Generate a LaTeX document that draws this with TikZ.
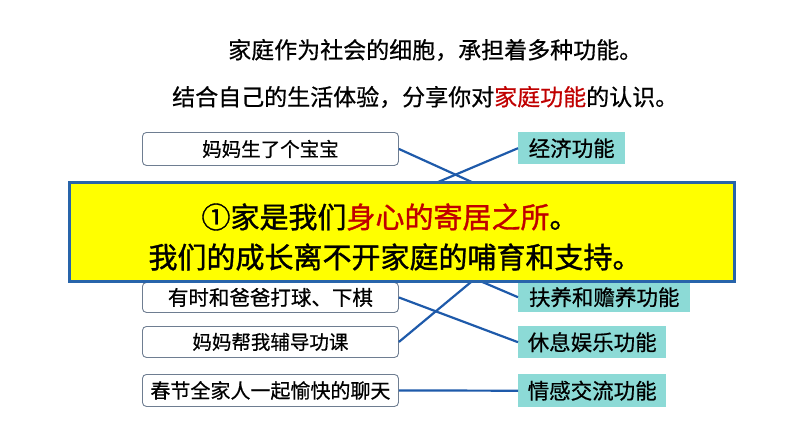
\documentclass[tikz,border=0pt]{standalone}
\usepackage{fontspec}
\setmainfont{Noto Sans CJK SC}[FakeBold=0.6]
\newfontfamily\heavyfont{Noto Sans CJK SC}[FakeBold=1.2]
\definecolor{lineblue}{RGB}{30,90,170}
\definecolor{ybord}{RGB}{40,100,170}
\definecolor{lborder}{RGB}{110,125,145}
\definecolor{tealbox}{RGB}{140,218,214}
\definecolor{dred}{RGB}{192,0,0}
\definecolor{ylw}{RGB}{255,255,0}
\begin{document}
\begin{tikzpicture}[x=1pt,y=-1pt,
  lbox/.style={draw=lborder, line width=0.9pt, rounded corners=4pt, fill=white,
    minimum width=256pt, inner sep=0pt, anchor=north west},
  rbox/.style={fill=tealbox, inner sep=0pt, anchor=north west},
  conn/.style={draw=lineblue, line width=2.2pt},
  toptext/.style={inner sep=0pt, anchor=west, font=\fontsize{23}{26}\selectfont},
  ytext/.style={inner sep=0pt, font=\heavyfont\fontsize{29}{32}\selectfont}]
\useasboundingbox (0,0) rectangle (794,447);

% top texts
\node[toptext] (t1) at (228,50) {家庭作为社会的细胞，承担着多种功能。};
\node[toptext] (t2) at (172,97) {结合自己的生活体验，分享你对\textcolor{dred}{家庭功能}的认识。};

% left boxes
\node[lbox, minimum height=33pt] (b1) at (142,132) {\fontsize{19.5}{21}\selectfont 妈妈生了个宝宝};
\node[lbox, minimum height=30pt] (b4) at (142,282) {\fontsize{20.5}{23}\selectfont 有时和爸爸打球、下棋};
\node[lbox, minimum height=31pt] (b5) at (142,326) {\fontsize{19.5}{21}\selectfont 妈妈帮我辅导功课};
\node[lbox, minimum height=32pt] (b6) at (142,374) {\fontsize{20}{23}\selectfont 春节全家人一起愉快的聊天};

% right boxes
\node[rbox, minimum width=107pt, minimum height=32pt] (r1) at (518,132) {\fontsize{21.5}{23}\selectfont 经济功能};
\node[rbox, minimum width=172pt, minimum height=30pt] (r4) at (518,282) {\fontsize{21.5}{23}\selectfont 扶养和赡养功能};
\node[rbox, minimum width=148pt, minimum height=32pt] (r5) at (518,326) {\fontsize{21.5}{23}\selectfont 休息娱乐功能};
\node[rbox, minimum width=148pt, minimum height=33pt] (r6) at (518,374) {\fontsize{21.5}{23}\selectfont 情感交流功能};

% hidden ends (behind the yellow panel)
\coordinate (h1) at (518,203);
\coordinate (h2) at (398,199);
\coordinate (h3) at (518,243);
\coordinate (h4) at (398,246);

% connectors
\draw[conn] (b1.east) -- (h1);
\draw[conn] (r1.west) -- (h2);
\draw[conn] (b5.east) -- (h3);
\draw[conn] (r4.west) -- (h4);
\draw[conn] (b4.east) -- (r5.west);
\draw[conn] (b6.east) -- (r6.west);

% yellow panel
\node[draw=ybord, line width=2.5pt, fill=ylw, minimum width=665pt, minimum height=99pt,
  inner sep=0pt, anchor=north west] (yb) at (68,181) {};
\node[ytext] (y1) at (390,217) {①家是我们\textcolor{dred}{身心的寄居之所}。};
\node[ytext] (y2) at (395,257) {我们的成长离不开家庭的哺育和支持。};
\end{tikzpicture}
\end{document}
